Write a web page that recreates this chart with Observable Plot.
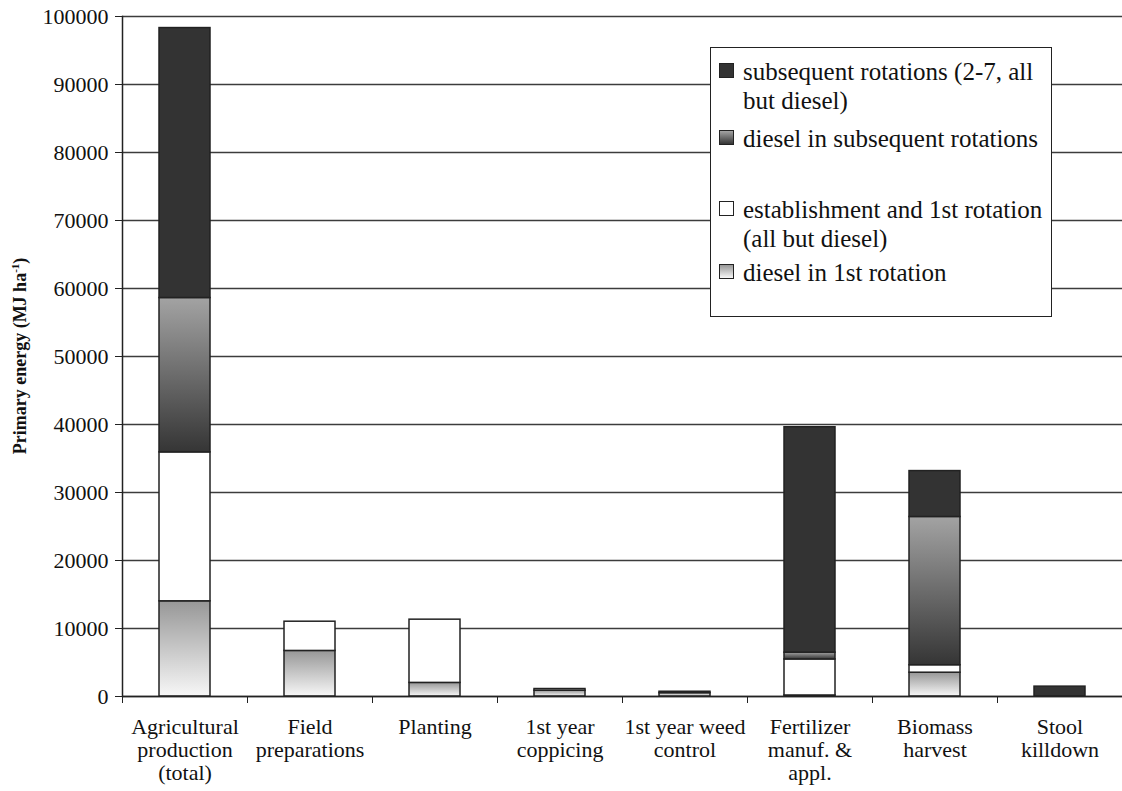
<!DOCTYPE html>
<html>
<head>
<meta charset="utf-8">
<script src="https://cdn.jsdelivr.net/npm/d3@7"></script>
<script src="https://cdn.jsdelivr.net/npm/@observablehq/plot@0.6"></script>
<style>
  html, body { margin: 0; padding: 0; background: white; }
  #wrap { position: relative; width: 1122px; height: 791px; font-family: "Liberation Serif", "DejaVu Serif", "Times New Roman", Times, serif; color: #111; }
  #ylabel { position: absolute; left: 20px; top: 356px; transform: translate(-50%, -50%) rotate(-90deg); white-space: nowrap; font-weight: bold; font-size: 18px; }
  #ylabel sup { font-size: 11px; vertical-align: 7px; }
  #legend { position: absolute; left: 710px; top: 47px; width: 340px; height: 268px; border: 1.5px solid #222; background: white; font-size: 25px; line-height: 29px; }
  .item { position: absolute; left: 8px; }
  .sw { position: absolute; left: 0; width: 15px; height: 15px; border: 1px solid #222; box-sizing: border-box; }
  .txt { position: absolute; left: 24px; white-space: nowrap; }
  svg text { font-family: "Liberation Serif", "DejaVu Serif", "Times New Roman", Times, serif; }
</style>
</head>
<body>
<div id="wrap">
  <div id="chart"></div>
  <div id="ylabel">Primary energy (MJ ha<sup>-1</sup>)</div>
  <div id="legend"></div>
</div>
<script>
// ---- data ----
const categories = ["Agricultural production (total)", "Field preparations", "Planting", "1st year coppicing", "1st year weed control", "Fertilizer manuf. & appl.", "Biomass harvest", "Stool killdown"];
const tickLabels = ["Agricultural\nproduction\n(total)", "Field\npreparations", "Planting", "1st year\ncoppicing", "1st year weed\ncontrol", "Fertilizer\nmanuf. &\nappl.", "Biomass\nharvest", "Stool\nkilldown"];
const seriesNames = ["diesel in 1st rotation", "establishment and 1st rotation (all but diesel)", "diesel in subsequent rotations", "subsequent rotations (2-7, all but diesel)"];
const dieselFirst      = [14000, 6700, 2000, 850, 500, 150, 3500, 0];
const establishment    = [21900, 4300, 9300, 250, 200, 5300, 1100, 0];
const dieselSubsequent = [22700, 0, 0, 0, 0, 1000, 21800, 0];
const subsequent       = [39700, 0, 0, 0, 0, 33150, 6750, 1450];
const yTicks = [0, 10000, 20000, 30000, 40000, 50000, 60000, 70000, 80000, 90000, 100000];

const seriesValues = [dieselFirst, establishment, dieselSubsequent, subsequent];
const fills = ["url(#gDieselFirst)", "white", "url(#gDieselSub)", "#333333"];
const cssFills = ["linear-gradient(#979797, #f7f7f7)", "white", "linear-gradient(#a3a3a3, #353535)", "#333333"];

const table = [];
categories.forEach((c, i) => {
  seriesNames.forEach((s, j) => {
    const v = seriesValues[j][i];
    if (v > 0) table.push({category: c, series: s, value: v});
  });
});

const step = 1000 / categories.length;
const serif = "'Liberation Serif', 'DejaVu Serif', 'Times New Roman', Times, serif";

const plot = Plot.plot({
  width: 1122,
  height: 791,
  marginLeft: 122,
  marginRight: 0,
  marginTop: 16,
  marginBottom: 95,
  style: {fontFamily: serif, fontSize: "22px", background: "white", color: "#111"},
  x: {domain: categories, paddingInner: 0.59, paddingOuter: 0.295, axis: null},
  y: {domain: [0, 100000], axis: null},
  color: {type: "ordinal", domain: seriesNames, range: fills},
  marks: [
    Plot.gridY(yTicks, {stroke: "#3c3c3c", strokeOpacity: 1, strokeWidth: 1.5}),
    Plot.barY(table, {x: "category", y: "value", fill: "series", stroke: "#222", strokeWidth: 1.5}),
    Plot.ruleY([0], {stroke: "#222", strokeWidth: 1.5}),
    Plot.frame({anchor: "left", stroke: "#222", strokeWidth: 1.5}),
    Plot.axisY(yTicks, {tickSize: 7, tickPadding: 7, tickFormat: d => String(d), label: null, fontSize: 22, stroke: "#222"}),
    Plot.axisX({tickSize: 0, tickPadding: 21, tickFormat: d => tickLabels[categories.indexOf(d)], label: null, fontSize: 22, lineHeight: 1.05}),
    Plot.axisX({tickSize: 7, dx: step / 2, tickFormat: () => "", label: null, stroke: "#222"}),
    Plot.axisX([categories[0]], {tickSize: 7, dx: -step / 2, tickFormat: () => "", label: null, stroke: "#222"})
  ]
});

d3.select(plot).insert("defs", ":first-child").html(`
  <linearGradient id="gDieselFirst" x1="0" y1="0" x2="0" y2="1">
    <stop offset="0" stop-color="#979797"/><stop offset="1" stop-color="#f7f7f7"/>
  </linearGradient>
  <linearGradient id="gDieselSub" x1="0" y1="0" x2="0" y2="1">
    <stop offset="0" stop-color="#a3a3a3"/><stop offset="1" stop-color="#353535"/>
  </linearGradient>`);

document.getElementById("chart").appendChild(plot);

// ---- legend (HTML) ----
const legendItems = [
  {i: 3, lines: ["subsequent rotations (2-7, all", "but diesel)"], top: 9},
  {i: 2, lines: ["diesel in subsequent rotations"], top: 76},
  {i: 1, lines: ["establishment and 1st rotation", "(all but diesel)"], top: 147},
  {i: 0, lines: ["diesel in 1st rotation"], top: 210}
];
const legend = document.getElementById("legend");
legendItems.forEach(it => {
  const d = document.createElement("div");
  d.className = "item";
  d.style.top = it.top + "px";
  const sw = document.createElement("div");
  sw.className = "sw";
  sw.style.top = "6px";
  sw.style.background = cssFills[it.i];
  const t = document.createElement("div");
  t.className = "txt";
  t.innerHTML = it.lines.join("<br>");
  d.appendChild(sw); d.appendChild(t);
  legend.appendChild(d);
});
</script>
</body>
</html>
